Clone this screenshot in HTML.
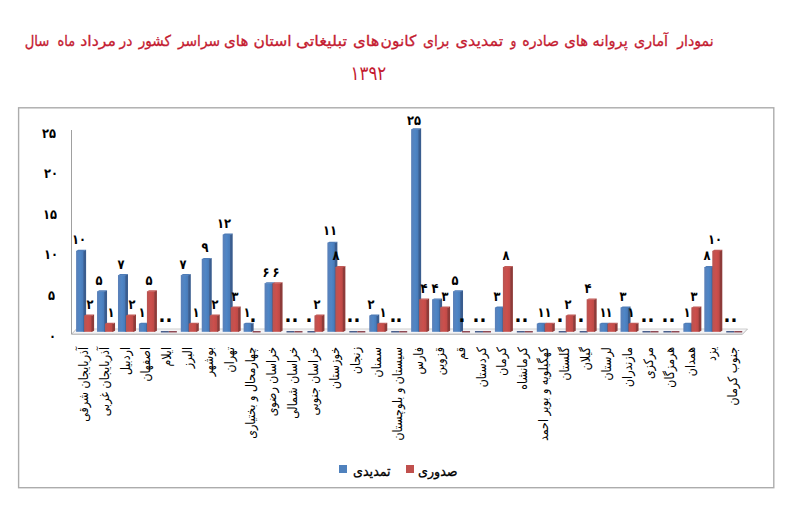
<!DOCTYPE html>
<html><head><meta charset="utf-8"><style>
html,body{margin:0;padding:0;background:#fff;width:800px;height:521px;overflow:hidden}
body{position:relative;font-family:"DejaVu Sans",sans-serif}
.title{position:absolute;left:0;width:737px;text-align:center;color:#c41a30;font-size:15.1px;white-space:nowrap;direction:rtl;-webkit-text-stroke:0.35px #c41a30}
.tw{position:absolute;top:30.7px;line-height:20px;color:#c41a30;font-size:15.1px;white-space:nowrap;direction:rtl;-webkit-text-stroke:0.3px #c41a30}
.dl,.yl{position:absolute;width:20px;text-align:center;font-weight:bold;font-size:13.5px;line-height:20px;color:#000;transform:scaleX(0.85)}
.dl.z{font-size:21px}
.yl{left:35.5px;text-align:right;transform-origin:100% 50%}
.dl,.yl{letter-spacing:-1px}
.xl{position:absolute;top:346.8px;font-size:13px;line-height:16px;color:#000;white-space:nowrap;direction:rtl;transform-origin:0 0;transform:rotate(-90deg) scaleX(0.85) translateX(-100%)}
svg{position:absolute;left:0;top:0}
.leg{position:absolute;font-size:13.5px;color:#000;white-space:nowrap;direction:rtl;line-height:16px;transform-origin:0 0;-webkit-text-stroke:0.3px #000}
.sq{position:absolute;width:8px;height:8px}
</style></head><body>
<div class="ttl" dir="rtl"><div class="tw" style="left:675.65px;transform:scaleX(0.936);transform-origin:18.50px 50%">نمودار</div> <div class="tw" style="left:633.10px;transform:scaleX(0.946);transform-origin:18.50px 50%">آماری</div> <div class="tw" style="left:591.70px;transform:scaleX(0.971);transform-origin:18.50px 50%">پروانه</div> <div class="tw" style="left:563.70px;transform:scaleX(0.983);transform-origin:12.00px 50%">های</div> <div class="tw" style="left:520.60px;transform:scaleX(0.938);transform-origin:19.50px 50%">صادره</div> <div class="tw" style="left:510.35px;transform:scaleX(0.814);transform-origin:2.50px 50%">و</div> <div class="tw" style="left:456.60px;transform:scaleX(1.067);transform-origin:22.50px 50%">تمدیدی</div> <div class="tw" style="left:422.00px;transform:scaleX(0.929);transform-origin:14.00px 50%">برای</div> <div class="tw" style="left:381.45px;transform:scaleX(1.026);transform-origin:18.00px 50%">کانون</div> <div class="tw" style="left:354.00px;transform:scaleX(1.083);transform-origin:12.00px 50%">های</div> <div class="tw" style="left:297.95px;transform:scaleX(1.087);transform-origin:23.50px 50%">تبلیغاتی</div> <div class="tw" style="left:254.10px;transform:scaleX(1.029);transform-origin:18.50px 50%">استان</div> <div class="tw" style="left:224.05px;transform:scaleX(0.996);transform-origin:12.00px 50%">های</div> <div class="tw" style="left:175.85px;transform:scaleX(0.911);transform-origin:22.00px 50%">سراسر</div> <div class="tw" style="left:136.95px;transform:scaleX(0.900);transform-origin:17.50px 50%">کشور</div> <div class="tw" style="left:119.10px;transform:scaleX(0.914);transform-origin:6.00px 50%">در</div> <div class="tw" style="left:80.55px;transform:scaleX(1.045);transform-origin:16.50px 50%">مرداد</div> <div class="tw" style="left:55.55px;transform:scaleX(0.855);transform-origin:10.00px 50%">ماه</div> <div class="tw" style="left:23.10px;transform:scaleX(0.877);transform-origin:14.00px 50%">سال</div></div>
<div class="title" style="top:60.5px;line-height:24px;font-size:20px;transform:scaleX(0.83);transform-origin:368px 0;-webkit-text-stroke:0">۱۳۹۲</div>
<svg width="800" height="521" viewBox="0 0 800 521">
<defs>
<linearGradient id="gb" x1="0" x2="1" y1="0" y2="0"><stop offset="0" stop-color="#5b80b8"/><stop offset="0.5" stop-color="#4f86c6"/><stop offset="1" stop-color="#4677b5"/></linearGradient>
<linearGradient id="gr" x1="0" x2="1" y1="0" y2="0"><stop offset="0" stop-color="#b85552"/><stop offset="0.5" stop-color="#cc4f4c"/><stop offset="1" stop-color="#bb4845"/></linearGradient>
</defs>
<rect x="18.6" y="107.8" width="755.2" height="379.9" fill="none" stroke="#acacac" stroke-width="1.4"/>
<polygon points="71.5,334.2 76.5,329 747.5,329 742.5,334.2" fill="#f4f4f6" stroke="none"/>
<line x1="76.5" y1="329" x2="747.5" y2="329" stroke="#cfcfcf" stroke-width="1"/>
<line x1="747.5" y1="329" x2="742.5" y2="334.2" stroke="#bbb" stroke-width="1"/>
<line x1="71.5" y1="334.2" x2="76.5" y2="329" stroke="#bbb" stroke-width="1"/>
<line x1="71.5" y1="334.2" x2="742.5" y2="334.2" stroke="#a8a8a8" stroke-width="1"/>
<line x1="71.5" y1="130" x2="71.5" y2="334.2" stroke="#a0a0a0" stroke-width="1"/>
<rect x="76.10" y="250.80" width="8.0" height="81.00" fill="url(#gb)"/>
<polygon points="83.50,250.80 84.10,250.80 86.10,249.80 86.10,330.80 84.10,331.80 83.50,331.80" fill="#3a5d8f"/>
<polygon points="76.10,251.20 78.10,249.80 86.10,249.80 84.10,251.20" fill="#4f7db8"/>
<rect x="84.10" y="315.60" width="8.0" height="16.20" fill="url(#gr)"/>
<polygon points="91.50,315.60 92.10,315.60 94.10,314.60 94.10,330.80 92.10,331.80 91.50,331.80" fill="#8e3b39"/>
<polygon points="84.10,316.00 86.10,314.60 94.10,314.60 92.10,316.00" fill="#c25a57"/>
<rect x="97.04" y="291.30" width="8.0" height="40.50" fill="url(#gb)"/>
<polygon points="104.44,291.30 105.04,291.30 107.04,290.30 107.04,330.80 105.04,331.80 104.44,331.80" fill="#3a5d8f"/>
<polygon points="97.04,291.70 99.04,290.30 107.04,290.30 105.04,291.70" fill="#4f7db8"/>
<rect x="105.04" y="323.70" width="8.0" height="8.10" fill="url(#gr)"/>
<polygon points="112.44,323.70 113.04,323.70 115.04,322.70 115.04,330.80 113.04,331.80 112.44,331.80" fill="#8e3b39"/>
<polygon points="105.04,324.10 107.04,322.70 115.04,322.70 113.04,324.10" fill="#c25a57"/>
<rect x="117.98" y="275.10" width="8.0" height="56.70" fill="url(#gb)"/>
<polygon points="125.38,275.10 125.98,275.10 127.98,274.10 127.98,330.80 125.98,331.80 125.38,331.80" fill="#3a5d8f"/>
<polygon points="117.98,275.50 119.98,274.10 127.98,274.10 125.98,275.50" fill="#4f7db8"/>
<rect x="125.98" y="315.60" width="8.0" height="16.20" fill="url(#gr)"/>
<polygon points="133.38,315.60 133.98,315.60 135.98,314.60 135.98,330.80 133.98,331.80 133.38,331.80" fill="#8e3b39"/>
<polygon points="125.98,316.00 127.98,314.60 135.98,314.60 133.98,316.00" fill="#c25a57"/>
<rect x="138.92" y="323.70" width="8.0" height="8.10" fill="url(#gb)"/>
<polygon points="146.32,323.70 146.92,323.70 148.92,322.70 148.92,330.80 146.92,331.80 146.32,331.80" fill="#3a5d8f"/>
<polygon points="138.92,324.10 140.92,322.70 148.92,322.70 146.92,324.10" fill="#4f7db8"/>
<rect x="146.92" y="291.30" width="8.0" height="40.50" fill="url(#gr)"/>
<polygon points="154.32,291.30 154.92,291.30 156.92,290.30 156.92,330.80 154.92,331.80 154.32,331.80" fill="#8e3b39"/>
<polygon points="146.92,291.70 148.92,290.30 156.92,290.30 154.92,291.70" fill="#c25a57"/>
<rect x="160.86" y="331.00" width="8.00" height="1.5" fill="#4a5f8c"/>
<rect x="168.86" y="331.00" width="8.00" height="1.5" fill="#8f4a55"/>
<rect x="180.80" y="275.10" width="8.0" height="56.70" fill="url(#gb)"/>
<polygon points="188.20,275.10 188.80,275.10 190.80,274.10 190.80,330.80 188.80,331.80 188.20,331.80" fill="#3a5d8f"/>
<polygon points="180.80,275.50 182.80,274.10 190.80,274.10 188.80,275.50" fill="#4f7db8"/>
<rect x="188.80" y="323.70" width="8.0" height="8.10" fill="url(#gr)"/>
<polygon points="196.20,323.70 196.80,323.70 198.80,322.70 198.80,330.80 196.80,331.80 196.20,331.80" fill="#8e3b39"/>
<polygon points="188.80,324.10 190.80,322.70 198.80,322.70 196.80,324.10" fill="#c25a57"/>
<rect x="201.74" y="258.90" width="8.0" height="72.90" fill="url(#gb)"/>
<polygon points="209.14,258.90 209.74,258.90 211.74,257.90 211.74,330.80 209.74,331.80 209.14,331.80" fill="#3a5d8f"/>
<polygon points="201.74,259.30 203.74,257.90 211.74,257.90 209.74,259.30" fill="#4f7db8"/>
<rect x="209.74" y="315.60" width="8.0" height="16.20" fill="url(#gr)"/>
<polygon points="217.14,315.60 217.74,315.60 219.74,314.60 219.74,330.80 217.74,331.80 217.14,331.80" fill="#8e3b39"/>
<polygon points="209.74,316.00 211.74,314.60 219.74,314.60 217.74,316.00" fill="#c25a57"/>
<rect x="222.68" y="234.60" width="8.0" height="97.20" fill="url(#gb)"/>
<polygon points="230.08,234.60 230.68,234.60 232.68,233.60 232.68,330.80 230.68,331.80 230.08,331.80" fill="#3a5d8f"/>
<polygon points="222.68,235.00 224.68,233.60 232.68,233.60 230.68,235.00" fill="#4f7db8"/>
<rect x="230.68" y="307.50" width="8.0" height="24.30" fill="url(#gr)"/>
<polygon points="238.08,307.50 238.68,307.50 240.68,306.50 240.68,330.80 238.68,331.80 238.08,331.80" fill="#8e3b39"/>
<polygon points="230.68,307.90 232.68,306.50 240.68,306.50 238.68,307.90" fill="#c25a57"/>
<rect x="243.62" y="323.70" width="8.0" height="8.10" fill="url(#gb)"/>
<polygon points="251.02,323.70 251.62,323.70 253.62,322.70 253.62,330.80 251.62,331.80 251.02,331.80" fill="#3a5d8f"/>
<polygon points="243.62,324.10 245.62,322.70 253.62,322.70 251.62,324.10" fill="#4f7db8"/>
<rect x="252.62" y="331.00" width="8.00" height="1.5" fill="#8f4a55"/>
<rect x="264.56" y="283.20" width="8.0" height="48.60" fill="url(#gb)"/>
<polygon points="271.96,283.20 272.56,283.20 274.56,282.20 274.56,330.80 272.56,331.80 271.96,331.80" fill="#3a5d8f"/>
<polygon points="264.56,283.60 266.56,282.20 274.56,282.20 272.56,283.60" fill="#4f7db8"/>
<rect x="272.56" y="283.20" width="8.0" height="48.60" fill="url(#gr)"/>
<polygon points="279.96,283.20 280.56,283.20 282.56,282.20 282.56,330.80 280.56,331.80 279.96,331.80" fill="#8e3b39"/>
<polygon points="272.56,283.60 274.56,282.20 282.56,282.20 280.56,283.60" fill="#c25a57"/>
<rect x="286.50" y="331.00" width="8.00" height="1.5" fill="#4a5f8c"/>
<rect x="294.50" y="331.00" width="8.00" height="1.5" fill="#8f4a55"/>
<rect x="307.44" y="331.00" width="8.00" height="1.5" fill="#4a5f8c"/>
<rect x="314.44" y="315.60" width="8.0" height="16.20" fill="url(#gr)"/>
<polygon points="321.84,315.60 322.44,315.60 324.44,314.60 324.44,330.80 322.44,331.80 321.84,331.80" fill="#8e3b39"/>
<polygon points="314.44,316.00 316.44,314.60 324.44,314.60 322.44,316.00" fill="#c25a57"/>
<rect x="327.38" y="242.70" width="8.0" height="89.10" fill="url(#gb)"/>
<polygon points="334.78,242.70 335.38,242.70 337.38,241.70 337.38,330.80 335.38,331.80 334.78,331.80" fill="#3a5d8f"/>
<polygon points="327.38,243.10 329.38,241.70 337.38,241.70 335.38,243.10" fill="#4f7db8"/>
<rect x="335.38" y="267.00" width="8.0" height="64.80" fill="url(#gr)"/>
<polygon points="342.78,267.00 343.38,267.00 345.38,266.00 345.38,330.80 343.38,331.80 342.78,331.80" fill="#8e3b39"/>
<polygon points="335.38,267.40 337.38,266.00 345.38,266.00 343.38,267.40" fill="#c25a57"/>
<rect x="349.32" y="331.00" width="8.00" height="1.5" fill="#4a5f8c"/>
<rect x="357.32" y="331.00" width="8.00" height="1.5" fill="#8f4a55"/>
<rect x="369.26" y="315.60" width="8.0" height="16.20" fill="url(#gb)"/>
<polygon points="376.66,315.60 377.26,315.60 379.26,314.60 379.26,330.80 377.26,331.80 376.66,331.80" fill="#3a5d8f"/>
<polygon points="369.26,316.00 371.26,314.60 379.26,314.60 377.26,316.00" fill="#4f7db8"/>
<rect x="377.26" y="323.70" width="8.0" height="8.10" fill="url(#gr)"/>
<polygon points="384.66,323.70 385.26,323.70 387.26,322.70 387.26,330.80 385.26,331.80 384.66,331.80" fill="#8e3b39"/>
<polygon points="377.26,324.10 379.26,322.70 387.26,322.70 385.26,324.10" fill="#c25a57"/>
<rect x="391.20" y="331.00" width="8.00" height="1.5" fill="#4a5f8c"/>
<rect x="399.20" y="331.00" width="8.00" height="1.5" fill="#8f4a55"/>
<rect x="411.14" y="129.30" width="8.0" height="202.50" fill="url(#gb)"/>
<polygon points="418.54,129.30 419.14,129.30 421.14,128.30 421.14,330.80 419.14,331.80 418.54,331.80" fill="#3a5d8f"/>
<polygon points="411.14,129.70 413.14,128.30 421.14,128.30 419.14,129.70" fill="#4f7db8"/>
<rect x="419.14" y="299.40" width="8.0" height="32.40" fill="url(#gr)"/>
<polygon points="426.54,299.40 427.14,299.40 429.14,298.40 429.14,330.80 427.14,331.80 426.54,331.80" fill="#8e3b39"/>
<polygon points="419.14,299.80 421.14,298.40 429.14,298.40 427.14,299.80" fill="#c25a57"/>
<rect x="432.08" y="299.40" width="8.0" height="32.40" fill="url(#gb)"/>
<polygon points="439.48,299.40 440.08,299.40 442.08,298.40 442.08,330.80 440.08,331.80 439.48,331.80" fill="#3a5d8f"/>
<polygon points="432.08,299.80 434.08,298.40 442.08,298.40 440.08,299.80" fill="#4f7db8"/>
<rect x="440.08" y="307.50" width="8.0" height="24.30" fill="url(#gr)"/>
<polygon points="447.48,307.50 448.08,307.50 450.08,306.50 450.08,330.80 448.08,331.80 447.48,331.80" fill="#8e3b39"/>
<polygon points="440.08,307.90 442.08,306.50 450.08,306.50 448.08,307.90" fill="#c25a57"/>
<rect x="453.02" y="291.30" width="8.0" height="40.50" fill="url(#gb)"/>
<polygon points="460.42,291.30 461.02,291.30 463.02,290.30 463.02,330.80 461.02,331.80 460.42,331.80" fill="#3a5d8f"/>
<polygon points="453.02,291.70 455.02,290.30 463.02,290.30 461.02,291.70" fill="#4f7db8"/>
<rect x="462.02" y="331.00" width="8.00" height="1.5" fill="#8f4a55"/>
<rect x="474.96" y="331.00" width="8.00" height="1.5" fill="#4a5f8c"/>
<rect x="482.96" y="331.00" width="8.00" height="1.5" fill="#8f4a55"/>
<rect x="494.90" y="307.50" width="8.0" height="24.30" fill="url(#gb)"/>
<polygon points="502.30,307.50 502.90,307.50 504.90,306.50 504.90,330.80 502.90,331.80 502.30,331.80" fill="#3a5d8f"/>
<polygon points="494.90,307.90 496.90,306.50 504.90,306.50 502.90,307.90" fill="#4f7db8"/>
<rect x="502.90" y="267.00" width="8.0" height="64.80" fill="url(#gr)"/>
<polygon points="510.30,267.00 510.90,267.00 512.90,266.00 512.90,330.80 510.90,331.80 510.30,331.80" fill="#8e3b39"/>
<polygon points="502.90,267.40 504.90,266.00 512.90,266.00 510.90,267.40" fill="#c25a57"/>
<rect x="516.84" y="331.00" width="8.00" height="1.5" fill="#4a5f8c"/>
<rect x="524.84" y="331.00" width="8.00" height="1.5" fill="#8f4a55"/>
<rect x="536.78" y="323.70" width="8.0" height="8.10" fill="url(#gb)"/>
<polygon points="544.18,323.70 544.78,323.70 546.78,322.70 546.78,330.80 544.78,331.80 544.18,331.80" fill="#3a5d8f"/>
<polygon points="536.78,324.10 538.78,322.70 546.78,322.70 544.78,324.10" fill="#4f7db8"/>
<rect x="544.78" y="323.70" width="8.0" height="8.10" fill="url(#gr)"/>
<polygon points="552.18,323.70 552.78,323.70 554.78,322.70 554.78,330.80 552.78,331.80 552.18,331.80" fill="#8e3b39"/>
<polygon points="544.78,324.10 546.78,322.70 554.78,322.70 552.78,324.10" fill="#c25a57"/>
<rect x="558.72" y="331.00" width="8.00" height="1.5" fill="#4a5f8c"/>
<rect x="565.72" y="315.60" width="8.0" height="16.20" fill="url(#gr)"/>
<polygon points="573.12,315.60 573.72,315.60 575.72,314.60 575.72,330.80 573.72,331.80 573.12,331.80" fill="#8e3b39"/>
<polygon points="565.72,316.00 567.72,314.60 575.72,314.60 573.72,316.00" fill="#c25a57"/>
<rect x="579.66" y="331.00" width="8.00" height="1.5" fill="#4a5f8c"/>
<rect x="586.66" y="299.40" width="8.0" height="32.40" fill="url(#gr)"/>
<polygon points="594.06,299.40 594.66,299.40 596.66,298.40 596.66,330.80 594.66,331.80 594.06,331.80" fill="#8e3b39"/>
<polygon points="586.66,299.80 588.66,298.40 596.66,298.40 594.66,299.80" fill="#c25a57"/>
<rect x="599.60" y="323.70" width="8.0" height="8.10" fill="url(#gb)"/>
<polygon points="607.00,323.70 607.60,323.70 609.60,322.70 609.60,330.80 607.60,331.80 607.00,331.80" fill="#3a5d8f"/>
<polygon points="599.60,324.10 601.60,322.70 609.60,322.70 607.60,324.10" fill="#4f7db8"/>
<rect x="607.60" y="323.70" width="8.0" height="8.10" fill="url(#gr)"/>
<polygon points="615.00,323.70 615.60,323.70 617.60,322.70 617.60,330.80 615.60,331.80 615.00,331.80" fill="#8e3b39"/>
<polygon points="607.60,324.10 609.60,322.70 617.60,322.70 615.60,324.10" fill="#c25a57"/>
<rect x="620.54" y="307.50" width="8.0" height="24.30" fill="url(#gb)"/>
<polygon points="627.94,307.50 628.54,307.50 630.54,306.50 630.54,330.80 628.54,331.80 627.94,331.80" fill="#3a5d8f"/>
<polygon points="620.54,307.90 622.54,306.50 630.54,306.50 628.54,307.90" fill="#4f7db8"/>
<rect x="628.54" y="323.70" width="8.0" height="8.10" fill="url(#gr)"/>
<polygon points="635.94,323.70 636.54,323.70 638.54,322.70 638.54,330.80 636.54,331.80 635.94,331.80" fill="#8e3b39"/>
<polygon points="628.54,324.10 630.54,322.70 638.54,322.70 636.54,324.10" fill="#c25a57"/>
<rect x="642.48" y="331.00" width="8.00" height="1.5" fill="#4a5f8c"/>
<rect x="650.48" y="331.00" width="8.00" height="1.5" fill="#8f4a55"/>
<rect x="663.42" y="331.00" width="8.00" height="1.5" fill="#4a5f8c"/>
<rect x="671.42" y="331.00" width="8.00" height="1.5" fill="#8f4a55"/>
<rect x="683.36" y="323.70" width="8.0" height="8.10" fill="url(#gb)"/>
<polygon points="690.76,323.70 691.36,323.70 693.36,322.70 693.36,330.80 691.36,331.80 690.76,331.80" fill="#3a5d8f"/>
<polygon points="683.36,324.10 685.36,322.70 693.36,322.70 691.36,324.10" fill="#4f7db8"/>
<rect x="691.36" y="307.50" width="8.0" height="24.30" fill="url(#gr)"/>
<polygon points="698.76,307.50 699.36,307.50 701.36,306.50 701.36,330.80 699.36,331.80 698.76,331.80" fill="#8e3b39"/>
<polygon points="691.36,307.90 693.36,306.50 701.36,306.50 699.36,307.90" fill="#c25a57"/>
<rect x="704.30" y="267.00" width="8.0" height="64.80" fill="url(#gb)"/>
<polygon points="711.70,267.00 712.30,267.00 714.30,266.00 714.30,330.80 712.30,331.80 711.70,331.80" fill="#3a5d8f"/>
<polygon points="704.30,267.40 706.30,266.00 714.30,266.00 712.30,267.40" fill="#4f7db8"/>
<rect x="712.30" y="250.80" width="8.0" height="81.00" fill="url(#gr)"/>
<polygon points="719.70,250.80 720.30,250.80 722.30,249.80 722.30,330.80 720.30,331.80 719.70,331.80" fill="#8e3b39"/>
<polygon points="712.30,251.20 714.30,249.80 722.30,249.80 720.30,251.20" fill="#c25a57"/>
<rect x="726.24" y="331.00" width="8.00" height="1.5" fill="#4a5f8c"/>
<rect x="734.24" y="331.00" width="8.00" height="1.5" fill="#8f4a55"/>
</svg>
<div class="yl" style="top:123.0px;left:36.0px">۲۵</div>
<div class="yl" style="top:163.0px;left:37.5px">۲۰</div>
<div class="yl" style="top:203.5px;left:36.8px">۱۵</div>
<div class="yl" style="top:244.4px;left:38.0px">۱۰</div>
<div class="yl" style="top:285.3px;left:35.0px">۵</div>
<div class="yl" style="top:326.3px;left:36.0px">۰</div>
<div class="dl" style="left:68.5px;top:228.7px">۱۰</div>
<div class="dl" style="left:80.4px;top:293.9px">۲</div>
<div class="dl" style="left:88.7px;top:270.1px">۵</div>
<div class="dl" style="left:100.8px;top:302.2px">۱</div>
<div class="dl" style="left:110.8px;top:253.5px">۷</div>
<div class="dl" style="left:122.0px;top:293.9px">۲</div>
<div class="dl" style="left:132.1px;top:302.2px">۱</div>
<div class="dl" style="left:139.2px;top:270.1px">۵</div>
<div class="dl z" style="left:151.6px;top:309.2px">۰</div>
<div class="dl z" style="left:158.8px;top:309.2px">۰</div>
<div class="dl" style="left:172.8px;top:253.5px">۷</div>
<div class="dl" style="left:185.7px;top:302.2px">۱</div>
<div class="dl" style="left:194.9px;top:237.0px">۹</div>
<div class="dl" style="left:204.7px;top:293.9px">۲</div>
<div class="dl" style="left:214.2px;top:213.1px">۱۲</div>
<div class="dl" style="left:224.5px;top:285.7px">۳</div>
<div class="dl" style="left:236.5px;top:302.2px">۱</div>
<div class="dl z" style="left:242.5px;top:309.2px">۰</div>
<div class="dl" style="left:256.4px;top:261.8px">۶</div>
<div class="dl" style="left:266.2px;top:261.8px">۶</div>
<div class="dl z" style="left:278.1px;top:309.2px">۰</div>
<div class="dl z" style="left:284.5px;top:309.2px">۰</div>
<div class="dl z" style="left:299.4px;top:309.2px">۰</div>
<div class="dl" style="left:306.7px;top:293.9px">۲</div>
<div class="dl" style="left:320.4px;top:220.4px">۱۱</div>
<div class="dl" style="left:326.2px;top:245.3px">۸</div>
<div class="dl z" style="left:339.9px;top:309.2px">۰</div>
<div class="dl z" style="left:346.9px;top:309.2px">۰</div>
<div class="dl" style="left:361.3px;top:293.9px">۲</div>
<div class="dl" style="left:373.4px;top:302.2px">۱</div>
<div class="dl z" style="left:382.9px;top:309.2px">۰</div>
<div class="dl z" style="left:388.9px;top:309.2px">۰</div>
<div class="dl" style="left:403.6px;top:110.0px">۲۵</div>
<div class="dl" style="left:413.9px;top:278.4px">۴</div>
<div class="dl" style="left:424.6px;top:278.4px">۴</div>
<div class="dl" style="left:435.3px;top:285.7px">۳</div>
<div class="dl" style="left:445.2px;top:270.1px">۵</div>
<div class="dl z" style="left:451.5px;top:309.2px">۰</div>
<div class="dl z" style="left:465.8px;top:309.2px">۰</div>
<div class="dl z" style="left:473.0px;top:309.2px">۰</div>
<div class="dl" style="left:487.0px;top:285.7px">۳</div>
<div class="dl" style="left:496.0px;top:245.3px">۸</div>
<div class="dl z" style="left:507.6px;top:309.2px">۰</div>
<div class="dl z" style="left:515.0px;top:309.2px">۰</div>
<div class="dl" style="left:530.5px;top:302.2px">۱</div>
<div class="dl" style="left:537.9px;top:302.2px">۱</div>
<div class="dl z" style="left:550.1px;top:309.2px">۰</div>
<div class="dl" style="left:557.6px;top:293.9px">۲</div>
<div class="dl z" style="left:570.8px;top:309.2px">۰</div>
<div class="dl" style="left:577.9px;top:278.4px">۴</div>
<div class="dl" style="left:593.3px;top:302.2px">۱</div>
<div class="dl" style="left:599.1px;top:302.2px">۱</div>
<div class="dl" style="left:613.1px;top:285.7px">۳</div>
<div class="dl" style="left:620.6px;top:302.2px">۱</div>
<div class="dl z" style="left:633.5px;top:309.2px">۰</div>
<div class="dl z" style="left:640.9px;top:309.2px">۰</div>
<div class="dl z" style="left:654.5px;top:309.2px">۰</div>
<div class="dl z" style="left:661.5px;top:309.2px">۰</div>
<div class="dl" style="left:676.8px;top:302.2px">۱</div>
<div class="dl" style="left:683.8px;top:285.7px">۳</div>
<div class="dl" style="left:696.6px;top:245.3px">۸</div>
<div class="dl" style="left:704.8px;top:228.7px">۱۰</div>
<div class="dl z" style="left:717.0px;top:309.2px">۰</div>
<div class="dl z" style="left:723.6px;top:309.2px">۰</div>
<div class="xl" style="left:75.6px">آذربایجان شرقی</div>
<div class="xl" style="left:96.5px">آذربایجان غربی</div>
<div class="xl" style="left:117.5px">اردبیل</div>
<div class="xl" style="left:138.4px">اصفهان</div>
<div class="xl" style="left:159.4px">ایلام</div>
<div class="xl" style="left:180.3px">البرز</div>
<div class="xl" style="left:201.2px">بوشهر</div>
<div class="xl" style="left:222.2px">تهران</div>
<div class="xl" style="left:243.1px">چهارمحال و بختیاری</div>
<div class="xl" style="left:264.1px">خراسان رضوی</div>
<div class="xl" style="left:285.0px">خراسان شمالی</div>
<div class="xl" style="left:305.9px">خراسان جنوبی</div>
<div class="xl" style="left:326.9px">خوزستان</div>
<div class="xl" style="left:347.8px">زنجان</div>
<div class="xl" style="left:368.8px">سمنان</div>
<div class="xl" style="left:389.7px">سیستان و بلوچستان</div>
<div class="xl" style="left:410.6px">فارس</div>
<div class="xl" style="left:431.6px">قزوین</div>
<div class="xl" style="left:452.5px">قم</div>
<div class="xl" style="left:473.5px">کردستان</div>
<div class="xl" style="left:494.4px">کرمان</div>
<div class="xl" style="left:515.3px">کرمانشاه</div>
<div class="xl" style="left:536.3px">کهگیلویه و بویر احمد</div>
<div class="xl" style="left:557.2px">گلستان</div>
<div class="xl" style="left:578.2px">گیلان</div>
<div class="xl" style="left:599.1px">لرستان</div>
<div class="xl" style="left:620.0px">مازندران</div>
<div class="xl" style="left:641.0px">مرکزی</div>
<div class="xl" style="left:661.9px">هرمزگان</div>
<div class="xl" style="left:682.9px">همدان</div>
<div class="xl" style="left:703.8px">یزد</div>
<div class="xl" style="left:724.7px">جنوب کرمان</div>
<div class="sq" style="left:339px;top:464.5px;background:#4f81bd"></div>
<div class="leg" style="left:352.5px;top:463px;transform:scaleX(0.94)">تمدیدی</div>
<div class="sq" style="left:406px;top:464.5px;background:#c0504d"></div>
<div class="leg" style="left:418px;top:463px;transform:scaleX(0.94)">صدوری</div>
</body></html>
